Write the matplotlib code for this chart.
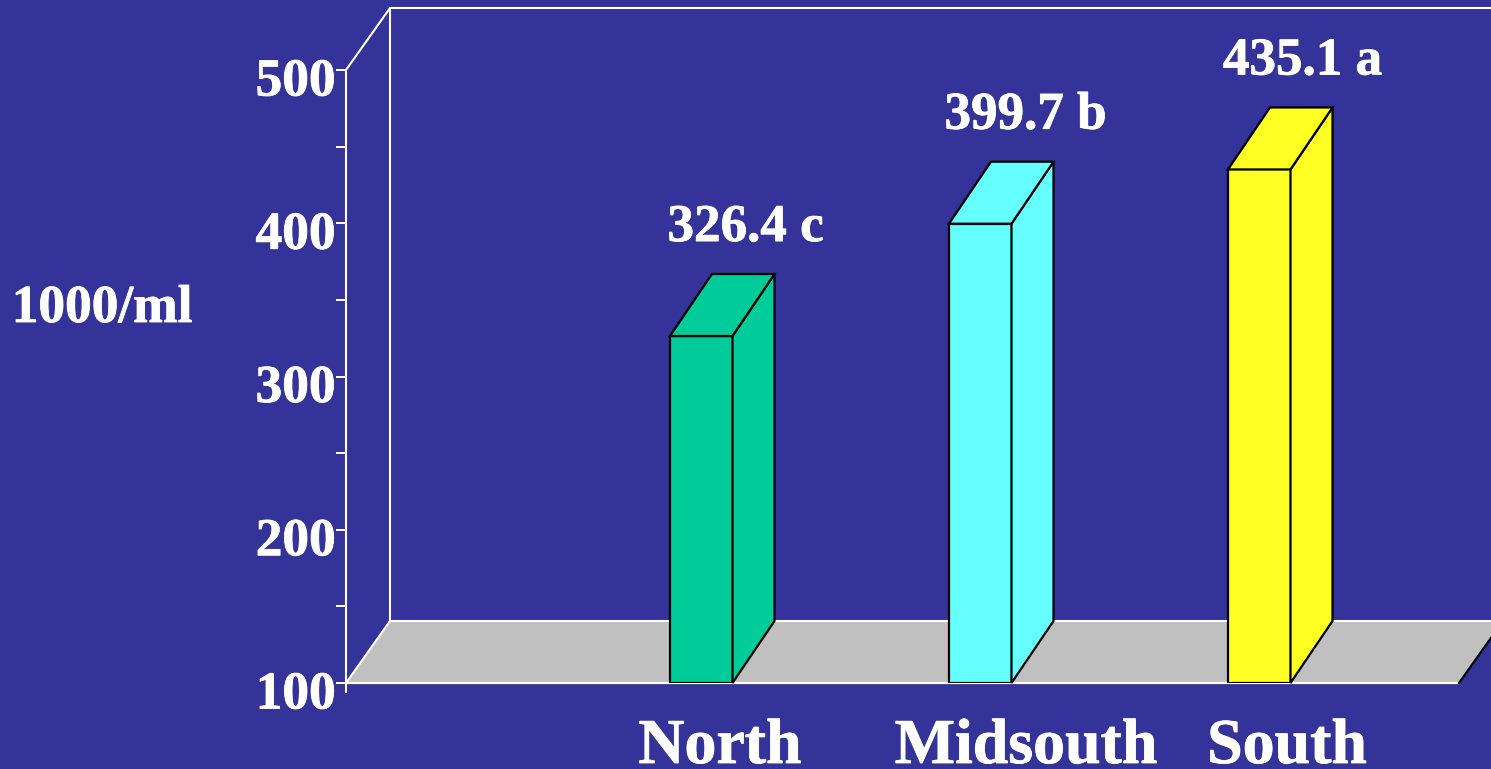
import matplotlib
matplotlib.use('Agg')
import matplotlib.pyplot as plt
import matplotlib.patheffects as pe
from matplotlib.patches import Polygon
from matplotlib.transforms import ScaledTranslation

regions = ['North', 'Midsouth', 'South']
values = [326.4, 399.7, 435.1]
letters = ['c', 'b', 'a']
colors = ['#00CC99', '#66FFFF', '#FFFF24']
y_ticks = [100, 200, 300, 400, 500]
y_minor = [150, 250, 350, 450]
unit_label = '1000/ml'

bg = '#333399'
W, H = 1491, 769

plt.rcParams['font.family'] = ['Liberation Serif', 'DejaVu Serif']

fig = plt.figure(figsize=(W / 100, H / 100), dpi=100, facecolor=bg)

# slightly heavier strokes on all the lettering
heavy = [pe.withStroke(linewidth=0.6, foreground='white')]

# front plane of the 3d box lives in the axes, y is in data units
left, right = 346, 1459
top, bottom = 70, 683
ax = fig.add_axes([left / W, 1 - bottom / H, (right - left) / W, (bottom - top) / H])
ax.set_xlim(left, right)
ax.set_ylim(100, 500)
ax.patch.set_visible(False)
for s in ax.spines.values():
    s.set_visible(False)
ax.set_xticks([])
ax.set_yticks(y_ticks)
ax.set_yticks(y_minor, minor=True)
ax.tick_params(axis='y', which='both', color='white', width=1.4, length=7, direction='out',
               labelcolor='white', pad=0.5)
ax.tick_params(axis='y', which='major', labelsize=38.4)
# numbers sit a little below their ticks
shift = ScaledTranslation(0, -7 / 100, fig.dpi_scale_trans)
for t in ax.get_yticklabels():
    t.set_fontweight('bold')
    t.set_path_effects(heavy)
    t.set_transform(t.get_transform() + shift)

# depth offset of the box, in pixels converted to data units
dx = 44
per_px = 400 / (bottom - top)
dy = 62 * per_px
clip = dict(clip_on=False)
lw = 1.5

# floor and walls
ax.add_patch(Polygon([(left, 100), (right, 100), (right + dx, 100 + dy), (left + dx, 100 + dy)],
                     closed=True, fc='#C0C0C0', ec='none', zorder=1, **clip))
ax.plot([left, right], [100, 100], color='white', lw=1.6, zorder=2, **clip)
ax.plot([right, right + dx], [100, 100 + dy], color='black', lw=1.6, zorder=2, **clip)
ax.plot([left, left + dx, right + dx], [100, 100 + dy, 100 + dy], color='white', lw=lw, zorder=2, **clip)
ax.plot([left, left], [100 - 9 * per_px, 500], color='white', lw=lw, zorder=2, **clip)
ax.plot([left, left + dx, left + dx], [500, 500 + dy, 100 + dy], color='white', lw=lw, zorder=2, **clip)
ax.plot([left + dx, right + dx], [500 + dy, 500 + dy], color='white', lw=lw, zorder=2, **clip)

# bars with side and top faces
bar_x = [670, 949, 1228]
bar_w = 62.5
value_x = [745.5, 1025.5, 1302.5]
for x0, v, c, letter, vx in zip(bar_x, values, colors, letters, value_x):
    x1 = x0 + bar_w
    ax.bar(x0, v - 100, width=bar_w, bottom=100, align='edge', color=c, edgecolor='black', lw=1.6, zorder=3)
    ax.add_patch(Polygon([(x1, 100), (x1 + 42, 100 + dy), (x1 + 42, v + dy), (x1, v)],
                         closed=True, fc=c, ec='black', lw=1.6, zorder=3, **clip))
    ax.add_patch(Polygon([(x0, v), (x1, v), (x1 + 42, v + dy), (x0 + 42, v + dy)],
                         closed=True, fc=c, ec='black', lw=1.6, zorder=3, **clip))
    ax.text(vx, v + 108 * per_px, f'{v} {letter}', color='white', fontsize=38.2, fontweight='bold',
            ha='center', va='center', clip_on=False, path_effects=heavy)

label_x = [720, 1026, 1287]
for x, name in zip(label_x, regions):
    fig.text(x / W, 1 - 763 / H, name, color='white', fontsize=46, fontweight='bold', ha='center',
             va='baseline', path_effects=heavy)
fig.text(102 / W, 1 - 309 / H, unit_label, color='white', fontsize=38.4, fontweight='bold', ha='center',
         va='center', path_effects=heavy)

fig.savefig('out.png', dpi=100, facecolor=bg)
